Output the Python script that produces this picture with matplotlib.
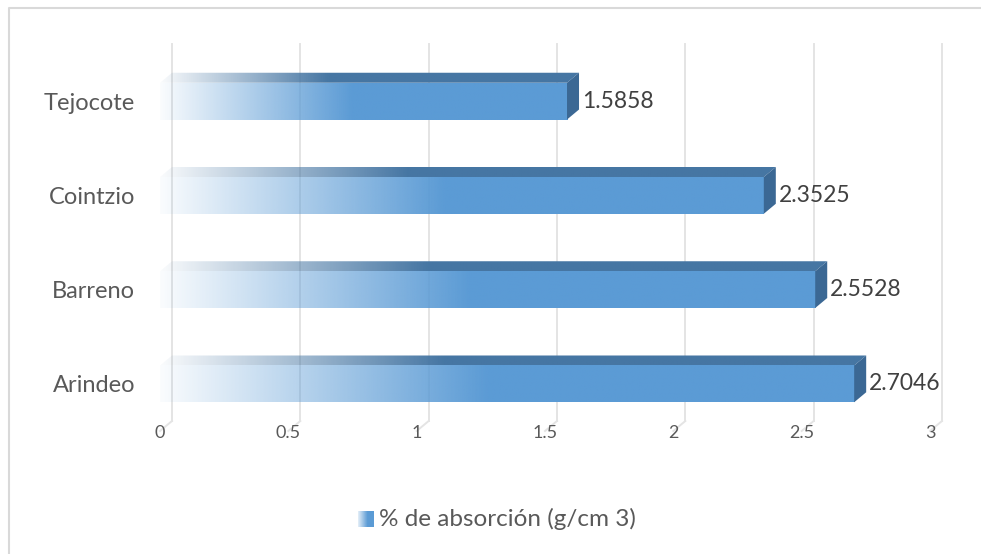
import numpy as np
import matplotlib
matplotlib.use("Agg")
import matplotlib.pyplot as plt
from matplotlib.patches import Polygon
from matplotlib.lines import Line2D
from matplotlib.colors import to_rgb

# data
categories = ["Arindeo", "Barreno", "Cointzio", "Tejocote"]
values = [2.7046, 2.5528, 2.3525, 1.5858]
value_labels = ["2.7046", "2.5528", "2.3525", "1.5858"]
xticks = [0, 0.5, 1, 1.5, 2, 2.5, 3]
xtick_labels = ["0", "0.5", "1", "1.5", "2", "2.5", "3"]
series_name = "% de absorción (g/cm 3)"

plt.rcParams['font.family'] = ['Lato', 'DejaVu Sans']

W, H = 981, 554
fig = plt.figure(figsize=(W / 100, H / 100), dpi=100)
fig.patch.set_facecolor("white")

# front plane of the 3d plot: x 0..3 -> px 160..930, y -0.5..3.5 -> px 431..54
ax = fig.add_axes([160 / W, 1 - 431 / H, 770 / W, 377 / H])
ax.set_xlim(0, 3)
ax.set_ylim(-0.5, 3.5)

dx = 12 / (770 / 3)     # depth offset in data units
dy = 10 / (377 / 4)
bar_h = 0.39

front_col = np.array(to_rgb("#5B9BD5"))
top_col = np.array(to_rgb("#4676A3"))
side_col = "#3B6894"
grid_col = "#E4E4E4"


def ramp(color, n=400, stop=0.47, a0=0.03):
    f = np.linspace(0, 1, n)
    alpha = np.clip(a0 + (1 - a0) * f / stop, 0, 1)
    img = np.zeros((1, n, 4))
    img[0, :, :3] = color
    img[0, :, 3] = alpha
    return img


# back wall gridlines + floor diagonals
for t in xticks:
    ax.plot([t + dx, t + dx], [-0.5 + dy, 3.5 + dy], color=grid_col, lw=1.4,
            zorder=0, clip_on=False)
    ax.plot([t, t + dx], [-0.5, -0.5 + dy], color=grid_col, lw=1.4,
            zorder=0, clip_on=False)

for i, v in enumerate(values):
    b, t = i - bar_h / 2, i + bar_h / 2
    # top face
    top_poly = Polygon([(0, t), (v, t), (v + dx, t + dy), (dx, t + dy)],
                       closed=True, facecolor="none", edgecolor="none")
    ax.add_patch(top_poly)
    im = ax.imshow(ramp(top_col, stop=0.4), extent=(0, v + dx, t, t + dy),
                   aspect="auto", zorder=2, interpolation="bilinear")
    im.set_clip_path(top_poly)
    # front face
    ax.imshow(ramp(front_col), extent=(0, v, b, t), aspect="auto", zorder=3,
              interpolation="bilinear")
    # right side face
    ax.add_patch(Polygon([(v, b), (v, t), (v + dx, t + dy), (v + dx, b + dy)],
                         closed=True, facecolor=side_col, edgecolor="none",
                         zorder=3))
    ax.annotate(value_labels[i], (v + dx, i), xytext=(2, 0),
                textcoords="offset points", va="center", ha="left",
                fontsize=16.5, color="#404040")

ax.set_xlim(0, 3)
ax.set_ylim(-0.5, 3.5)
ax.set_yticks(range(len(categories)))
ax.set_yticklabels(categories, fontsize=17, color="#595959")
ax.set_xticks(xticks)
ax.set_xticklabels(xtick_labels, fontsize=13, color="#595959")
ax.tick_params(axis="y", length=0, pad=18)
ax.tick_params(axis="x", length=0, pad=-4)
for s in ax.spines.values():
    s.set_visible(False)
ax.patch.set_alpha(0)

# legend
lax = fig.add_axes([358 / W, 1 - 527 / H, 16 / W, 16 / H])
lax.imshow(ramp(front_col, stop=0.6, a0=0.15), aspect="auto",
           interpolation="bilinear")
lax.axis("off")
fig.text(379 / W, 1 - 519 / H, series_name, fontsize=17.5, color="#595959",
         va="center", ha="left")

# chart border (top and left visible)
fig.add_artist(Line2D([8.5 / W, 8.5 / W, 1], [0, 1 - 7.5 / H, 1 - 7.5 / H],
                      transform=fig.transFigure, color="#D9D9D9", lw=1.5))

fig.savefig("out.png", dpi=100)
